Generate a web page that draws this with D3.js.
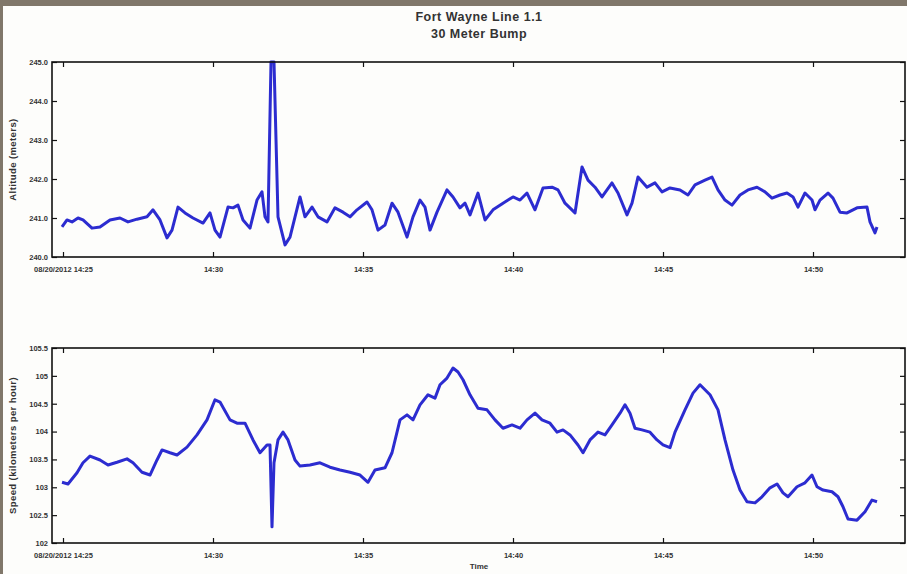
<!DOCTYPE html>
<html>
<head>
<meta charset="utf-8">
<script src="https://cdn.jsdelivr.net/npm/d3@7"></script>
<style>
  body { margin: 0; background: #fdfdfb; }
  text { font-family: "Liberation Sans", Arial, sans-serif; fill: #333; }
</style>
</head>
<body>
<div id="chart"></div>
<script>
// seconds after 14:25:00
var altTime = [-2,8,18,30,40,58,74,94,114,130,148,168,180,194,208,218,230,244,260,280,294,304,314,330,340,350,360,374,388,398,404,410,416,422,430,444,454,474,484,498,510,528,544,560,574,588,608,618,630,644,658,670,688,700,714,724,734,748,768,780,794,804,814,830,844,860,880,900,914,928,944,960,978,990,1004,1024,1038,1050,1064,1078,1098,1110,1128,1138,1150,1168,1184,1198,1214,1234,1250,1264,1284,1298,1310,1324,1338,1354,1370,1388,1404,1418,1434,1448,1460,1470,1484,1498,1504,1514,1530,1540,1554,1568,1588,1608,1614,1624,1628];
var altitude = [240.77,240.95,240.90,241.00,240.95,240.74,240.77,240.95,241.00,240.90,240.97,241.03,241.21,240.95,240.49,240.69,241.28,241.13,241.00,240.87,241.13,240.69,240.51,241.28,241.26,241.33,240.95,240.74,241.46,241.67,241.03,240.90,245.00,245.00,241.03,240.31,240.51,241.54,241.03,241.28,241.03,240.90,241.26,241.15,241.03,241.21,241.41,241.21,240.69,240.82,241.38,241.15,240.51,241.03,241.46,241.28,240.69,241.15,241.72,241.54,241.26,241.38,241.08,241.64,240.95,241.21,241.38,241.54,241.46,241.64,241.21,241.77,241.79,241.72,241.38,241.13,242.31,241.97,241.79,241.54,241.90,241.64,241.08,241.38,242.05,241.79,241.90,241.67,241.77,241.72,241.59,241.85,241.97,242.05,241.72,241.46,241.33,241.59,241.72,241.79,241.67,241.51,241.59,241.64,241.54,241.28,241.64,241.46,241.21,241.46,241.64,241.51,241.15,241.13,241.26,241.28,240.90,240.62,240.77];

var speedTime = [-2,10,28,40,54,74,90,108,128,140,158,174,188,198,214,228,248,268,288,304,314,334,348,364,380,394,408,414,418,422,430,440,450,464,474,494,514,534,554,574,594,610,624,644,658,674,688,700,714,730,744,754,768,780,790,800,814,830,848,864,880,898,914,928,944,958,974,988,1000,1014,1030,1040,1054,1070,1084,1098,1114,1124,1134,1144,1158,1174,1188,1200,1214,1224,1244,1260,1274,1294,1310,1324,1340,1354,1368,1384,1398,1414,1428,1440,1450,1468,1484,1498,1508,1520,1538,1550,1560,1570,1588,1604,1618,1628];
var speed = [103.09,103.06,103.26,103.44,103.56,103.49,103.40,103.45,103.51,103.44,103.27,103.22,103.49,103.67,103.62,103.58,103.72,103.94,104.21,104.57,104.53,104.21,104.15,104.15,103.85,103.62,103.76,103.76,102.29,103.44,103.85,103.99,103.85,103.49,103.38,103.40,103.44,103.36,103.31,103.27,103.22,103.09,103.31,103.35,103.62,104.21,104.30,104.21,104.48,104.66,104.60,104.84,104.96,105.14,105.07,104.93,104.66,104.42,104.39,104.21,104.06,104.12,104.06,104.21,104.33,104.21,104.15,103.99,104.03,103.94,103.76,103.62,103.85,103.99,103.94,104.12,104.33,104.48,104.33,104.06,104.03,103.99,103.85,103.76,103.71,103.99,104.39,104.69,104.84,104.66,104.39,103.85,103.31,102.95,102.74,102.72,102.83,102.99,103.06,102.90,102.83,103.01,103.08,103.22,103.01,102.95,102.92,102.83,102.65,102.43,102.41,102.56,102.77,102.74];

var timeTicks = [0, 300, 600, 900, 1200, 1500];
var timeLabels = ["08/20/2012 14:25", "14:30", "14:35", "14:40", "14:45", "14:50"];
var altTicks = [240, 241, 242, 243, 244, 245];
var speedTicks = [102, 102.5, 103, 103.5, 104, 104.5, 105, 105.5];

var W = 907, H = 574;
var svg = d3.select("#chart").append("svg").attr("width", W).attr("height", H);

svg.append("rect").attr("width", W).attr("height", H).attr("fill", "#fdfdfb");
// window frame
svg.append("rect").attr("width", W).attr("height", 6).attr("fill", "#80776a");
svg.append("rect").attr("width", 3).attr("height", H).attr("fill", "#80776a");

var x = d3.scaleLinear().domain([-22, 1684]).range([52, 905]);

svg.append("text").attr("x", 479).attr("y", 21).attr("text-anchor", "middle")
  .style("font-size", "12.5px").style("font-weight", "bold").style("letter-spacing", "0.5px")
  .text("Fort Wayne Line 1.1");
svg.append("text").attr("x", 479).attr("y", 38).attr("text-anchor", "middle")
  .style("font-size", "12.5px").style("font-weight", "bold").style("letter-spacing", "0.5px")
  .text("30 Meter Bump");

function panel(top, bottom, times, values, yTicks, yFmt, yLabel) {
  var y = d3.scaleLinear().domain([yTicks[0], yTicks[yTicks.length - 1]]).range([bottom, top]);
  var g = svg.append("g");

  var line = d3.line().x(function(d, i) { return x(times[i]); }).y(function(d) { return y(d); });
  g.append("path").datum(values).attr("d", line)
    .attr("fill", "none").attr("stroke", "#2c2cd0").attr("stroke-width", 3)
    .attr("stroke-linejoin", "round");

  // ticks point inwards on all four sides, like matlab
  var xb = g.append("g").attr("transform", "translate(0," + bottom + ")")
    .call(d3.axisBottom(x).tickValues(timeTicks).tickSize(-5).tickPadding(8)
      .tickFormat(function(d, i) { return timeLabels[i]; }));
  g.append("g").attr("transform", "translate(0," + top + ")")
    .call(d3.axisTop(x).tickValues(timeTicks).tickSize(-5).tickFormat(""));
  g.append("g").attr("transform", "translate(52,0)")
    .call(d3.axisLeft(y).tickValues(yTicks).tickSize(-5).tickPadding(4).tickFormat(d3.format(yFmt)));
  g.append("g").attr("transform", "translate(905,0)")
    .call(d3.axisRight(y).tickValues(yTicks).tickSize(-5).tickFormat(""));

  g.selectAll(".domain").remove();
  g.selectAll(".tick line").attr("stroke", "#111").attr("stroke-width", 1.2);
  g.selectAll(".tick text").style("font-size", "7.5px").style("font-weight", "bold").attr("fill", "#555");
  xb.selectAll(".tick text").attr("dy", "0.9em");

  g.append("rect").attr("x", 52).attr("y", top).attr("width", 853).attr("height", bottom - top)
    .attr("fill", "none").attr("stroke", "#111").attr("stroke-width", 1.6);

  g.append("text")
    .attr("transform", "translate(13," + ((top + bottom) / 2) + ") rotate(-90)")
    .attr("text-anchor", "middle").attr("dy", "0.35em")
    .style("font-size", "9.5px").style("font-weight", "bold").style("letter-spacing", "0.4px")
    .text(yLabel);
}

panel(62, 257, altTime, altitude, altTicks, ".1f", "Altitude (meters)");
panel(348, 543, speedTime, speed, speedTicks, "", "Speed (kilometers per hour)");

svg.append("text").attr("x", 479).attr("y", 569).attr("text-anchor", "middle")
  .style("font-size", "8px").style("font-weight", "bold").text("Time");
</script>
</body>
</html>
